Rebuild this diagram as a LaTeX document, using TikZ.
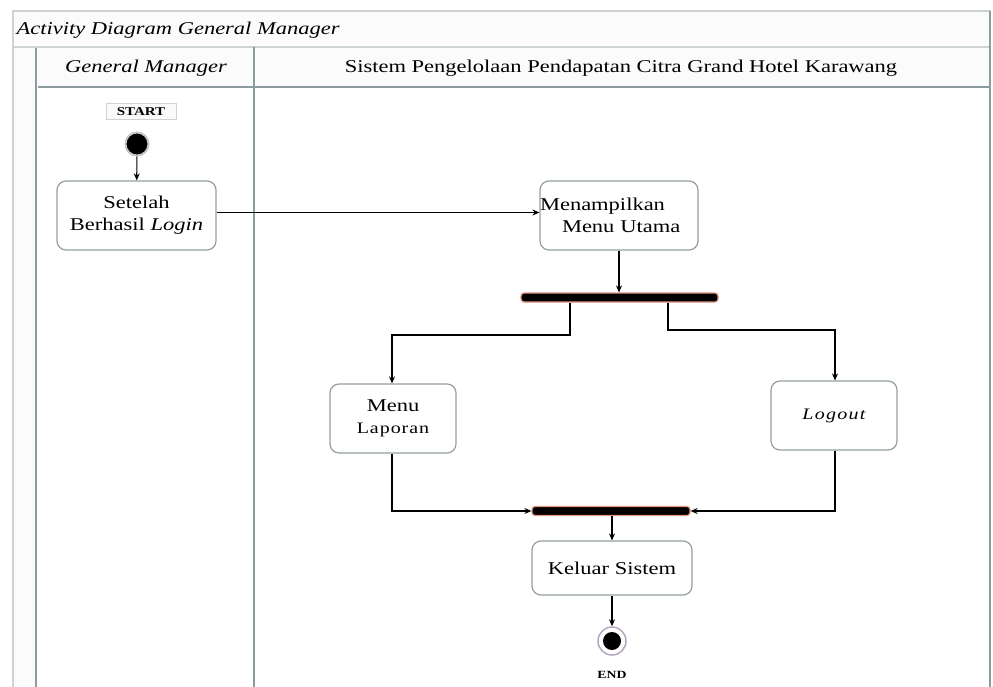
\documentclass[tikz,border=0pt]{standalone}
\usepackage{fontspec}
\setmainfont{Liberation Serif}[FakeStretch=1.25]
\usetikzlibrary{arrows.meta}
\definecolor{frameg}{RGB}{205,210,210}
\definecolor{laneg}{RGB}{140,155,158}
\definecolor{boxg}{RGB}{150,160,160}
\definecolor{barout}{RGB}{225,150,130}
\definecolor{endring}{RGB}{150,130,160}
\tikzset{
  act/.style={draw=boxg, line width=1.2pt, fill=white, rounded corners=9pt, align=center, font=\fontsize{18}{22}\selectfont, inner sep=0pt},
  bar/.style={draw=barout, line width=1.2pt, fill=black, rounded corners=3pt, minimum height=9pt, inner sep=0pt},
  flow/.style={draw=black, line width=1.1pt, -{Stealth[length=7pt,width=6pt]}},
  hdr/.style={font=\fontsize{18}{21}\selectfont},
}
\begin{document}
\begin{tikzpicture}[x=1pt,y=-1pt]
\useasboundingbox (0,0) rectangle (993,687);
% frame
\draw[frameg, line width=1.5pt, fill=white] (13,11) rectangle (990,700);
\fill[gray!3] (14,12) rectangle (989,45);
\node[anchor=west, font=\fontsize{18}{21}\selectfont\itshape] (title) at (13,30) {Activity Diagram General Manager};
% left strip
\fill[gray!3] (14,47) rectangle (35,700);
\draw[laneg, line width=2pt] (36,47) -- (36,700);
\draw[frameg, line width=1.5pt] (13,47) -- (36,47);
% header
\fill[gray!3] (38,48) rectangle (253,87);
\fill[gray!3] (256,48) rectangle (989,87);
\draw[frameg, line width=1.5pt] (36,47) -- (990,47);
\draw[laneg, line width=2pt] (38,87) -- (990,87);
\draw[laneg, line width=2pt] (254,47) -- (254,700);
\draw[laneg, line width=1.5pt] (990,11) -- (990,700);
\node[hdr, font=\fontsize{18}{21}\selectfont\itshape] (h1) at (146,68) {General Manager};
\node[hdr] (h2) at (621,68) {Sistem Pengelolaan Pendapatan Citra Grand Hotel Karawang};
% start
\node[draw=frameg, line width=1pt, fill=gray!4, minimum width=70pt, minimum height=16pt, inner sep=0pt, font=\fontsize{12}{14}\selectfont\bfseries] (startlbl) at (141,112) {START};
\node[circle, fill=black, draw=boxg!60, line width=2pt, minimum size=23pt, inner sep=0pt] (start) at (137,144) {};
% activities
\node[act, minimum width=159pt, minimum height=69pt] (login) at (136.5,215.5) {Setelah\\Berhasil \textit{Login}};
\node[act, minimum width=158pt, minimum height=69pt, align=left, text width=158pt] (menu) at (619,215.5) {Menampilkan\\\hspace*{22pt}Menu Utama};
\node[bar, minimum width=197pt] (fork) at (619.5,297.5) {};
\node[act, minimum width=126pt, minimum height=69pt] (lap) at (393,418.5) {Menu\\{\addfontfeature{LetterSpace=6}\fontsize{16}{22}\selectfont Laporan}};
\node[act, minimum width=126pt, minimum height=69pt] (logout) at (834,415.5) {{\addfontfeature{LetterSpace=8}\fontsize{16}{21}\selectfont\itshape Logout}};
\node[bar, minimum width=158pt] (join) at (611,511) {};
\node[act, minimum width=160pt, minimum height=54pt] (keluar) at (612,568) {Keluar Sistem};
\node[circle, draw=endring!70, line width=1.5pt, minimum size=28pt, inner sep=0pt] (endc) at (612,641) {};
\node[circle, fill=black, minimum size=18pt, inner sep=0pt] (endi) at (612,641) {};
\node[font=\fontsize{11}{13}\selectfont\bfseries] (endlbl) at (612,675) {END};
% connectors
\draw[flow] (start) -- (login);
\draw[flow] ([yshift=3pt]login.east) -- ([yshift=3pt]menu.west);
\draw[flow] (menu.south) -- (fork.north -| menu.south);
\draw[flow] (fork.south -| 570,0) |- (392,335) -- (lap.north -| 392,0);
\draw[flow] (fork.south -| 668,0) |- (835,330) -- (logout.north -| 835,0);
\draw[flow] (lap.south -| 392,0) |- (join.west);
\draw[flow] (logout.south -| 835,0) |- (join.east);
\draw[flow] (join.south -| keluar.north) -- (keluar.north);
\draw[flow] (keluar.south) -- (endc.north);
\end{tikzpicture}
\end{document}
